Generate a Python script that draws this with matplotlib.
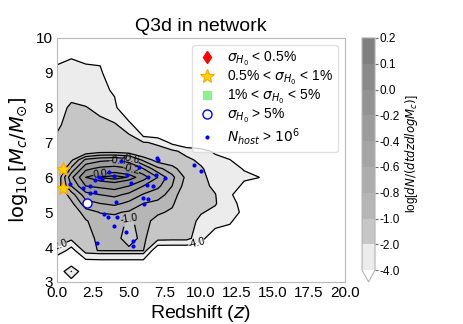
import numpy as np
import matplotlib
matplotlib.use('Agg')
import matplotlib.pyplot as plt
from matplotlib.colors import ListedColormap, BoundaryNorm

plt.rcParams['font.family'] = ['Liberation Sans', 'DejaVu Sans']

# grid of log density, rows = logM, columns = redshift
z_grid = np.arange(0, 16)
m_grid = [2.9, 3.3, 3.6, 3.9, 4.25, 4.75, 5.0, 5.25, 5.5, 5.75, 6.0,
          6.25, 6.5, 6.75, 7.0, 7.5, 8.0, 8.5, 9.0, 9.5, 9.9]
E = -6.0
dens = [
    [E]*16,
    [E, -1.95] + [E]*14,
    [E, E, -4.5, -4.4, -4.4, -4.4, -4.4] + [E]*9,
    [-2.2, -5, -1.2, -0.95, -0.95, -0.95, -0.95] + [E]*9,
    [-1.6, -1.5, -1.15, -0.9, -0.92, -1.1, -0.93, -1.3, -1.4, -1.4, -3.2, E, E, E, E, E],
    [-1.45, -1.3, -1.02, -0.88, -0.85, -1.05, -0.9, -1.1, -1.3, -1.4, -2.3, -2.5, -3.5, E, E, E],
    [-1.4, -1.2, -0.88, -0.79, -0.78, -0.82, -0.88, -0.95, -1.05, -1.35, -1.9, -2.3, -3.0, -4.5, E, E],
    [-1.35, -1.05, -0.68, -0.6, -0.55, -0.65, -0.8, -0.85, -0.95, -1.3, -1.7, -1.9, -3.0, -5.0, E, E],
    [-1.25, -0.9, -0.48, -0.4, -0.35, -0.45, -0.62, -0.72, -0.88, -1.2, -1.6, -1.95, -3.5, E, E, E],
    [-1.15, -0.6, -0.2, -0.15, -0.1, -0.2, -0.4, -0.55, -0.8, -1.1, -1.55, -2.3, -3.0, -4.4, E, E],
    [-1.2, -0.45, 0.0, 0.11, 0.15, 0.09, -0.1, -0.4, -0.75, -1.05, -1.6, -2.6, -3.2, -3.7, -3.9, E],
    [-1.35, -0.75, -0.25, -0.15, -0.12, -0.18, -0.4, -0.75, -0.9, -1.2, -1.8, -2.9, -3.5, -4.1, E, E],
    [-1.5, -1.05, -0.55, -0.45, -0.42, -0.5, -0.85, -1.1, -1.2, -1.6, -2.4, -3.3, -3.9, E, E, E],
    [-1.65, -1.3, -1.2, -1.1, -1.1, -1.15, -1.3, -1.6, -1.6, -2.6, -3.2, -4.4, E, E, E, E],
    [-1.8, -1.5, -1.3, -1.4, -1.5, -1.45, -1.9, -2.2, -4.6] + [E]*7,
    [-2.15, -1.65, -1.55, -1.7, -1.85, -2.6, -8, -9] + [E]*8,
    [-2.6, -1.75, -1.95, -2.3, -3.0, -9] + [E]*10,
    [-3.0, -2.6, -2.6, -2.8, -4.6] + [E]*11,
    [-3.5, -3.2, -3.4, -3.6] + [E]*12,
    [-4.6, -4.2, -4.6, -4.6] + [E]*12,
    [E, -5.5] + [E]*14,
]

levels = [-4.0, -2.0, -1.0, -0.8, -0.6, -0.4, -0.2, 0.0, 0.1, 0.2]
band_colors = ['#ececec', '#c6c6c6', '#b6b6b6', '#adadad', '#a5a5a5',
               '#9c9c9c', '#939393', '#8a8a8a', '#808080']

# galaxies with N_host > 1e6
dot_z = [0.93, 1.8, 2.3, 2.3, 2.66, 2.66, 2.9, 3.13, 3.6, 3.94, 4.45, 4.88,
         5.14, 5.72, 6.35, 6.92, 7.03, 6.9, 7.5, 9.51, 10.02, 6.27, 6.65,
         5.95, 6.33, 6.03, 4.08, 3.25, 3.53, 4.18, 3.99, 4.81, 5.3, 5.3, 2.79]
dot_m = [5.82, 5.68, 5.74, 5.55, 5.59, 5.93, 6.01, 5.95, 6.16, 6.05, 6.47, 6.06,
         5.83, 6.3, 6.0, 6.56, 6.49, 6.06, 5.99, 6.35, 6.19, 5.78, 5.74,
         5.42, 5.37, 5.24, 5.29, 4.96, 4.86, 4.86, 4.59, 4.42, 4.18, 4.03, 4.11]
star_z = [0.4, 0.4]
star_m = [6.23, 5.69]
circ_z = [2.06]
circ_m = [5.25]

label_pos = {-0.4: (4.2, 6.38), -0.6: (5.1, 6.45), -0.2: (5.1, 6.15),
             0.0: (3.0, 6.12), -1.0: (5.0, 4.78), -4.0: (9.7, 4.06),
             -2.0: (0.2, 3.95)}

Z, M = np.meshgrid(z_grid, m_grid)
D = np.array(dens)

fig = plt.figure(figsize=(4.63, 3.24), dpi=100)
ax = fig.add_axes([0.123, 0.130, 0.622, 0.753])
cax = fig.add_axes([0.782, 0.130, 0.028, 0.753])

cmap = ListedColormap(band_colors)
cmap.set_under('white')
norm = BoundaryNorm(levels, len(band_colors))

cf = ax.contourf(Z, M, D, levels=levels, cmap=cmap, norm=norm, extend='min')
# one contour set per level so each label can be put by hand
for lev in levels:
    cs = ax.contour(Z, M, D, levels=[lev], colors='k', linewidths=0.9,
                    linestyles='solid')
    if lev in label_pos:
        ax.clabel(cs, manual=[label_pos[lev]], fmt='%1.1f', fontsize=7.5,
                  inline=True, inline_spacing=2)

ax.plot([], [], 'd', color='red', markersize=6, label=r'$\sigma_{H_0}$ < 0.5%')
ax.plot(star_z, star_m, '*', mfc='gold', mec='orange', mew=0.8, markersize=10,
        label=r'0.5% < $\sigma_{H_0}$ < 1%', zorder=4)
ax.plot([], [], 's', color='lightgreen', markersize=6,
        label=r'1% < $\sigma_{H_0}$ < 5%')
ax.plot(circ_z, circ_m, 'o', mfc='white', mec='blue', mew=1.0, markersize=6.5,
        label=r'$\sigma_{H_0}$ > 5%', zorder=4)
ax.plot(dot_z, dot_m, 'o', color='blue', mec='none', markersize=3,
        label=r'$N_{host}$ > $10^6$', zorder=4)

ax.set_xlim(0, 20)
ax.set_ylim(3, 10)
ax.set_xticks([0, 2.5, 5, 7.5, 10, 12.5, 15, 17.5, 20])
ax.tick_params(length=0, labelsize=11, pad=3)
for s in ax.spines.values():
    s.set_color('0.72')
ax.set_xlabel('Redshift ($z$)', fontsize=14, labelpad=2)
ax.set_ylabel(r'$\log_{10}[M_c/M_{\odot}]$', fontsize=14, labelpad=4)
ax.set_title('Q3d in network', fontsize=14, pad=5)

leg = ax.legend(loc='upper right', fontsize=10, frameon=True, fancybox=True,
                handletextpad=0.7, borderpad=0.35, labelspacing=0.08,
                handlelength=1.5)
leg.get_frame().set_edgecolor('0.85')

cb = fig.colorbar(cf, cax=cax, ticks=levels)
cb.ax.set_yticklabels(['%.1f' % l for l in levels])
cb.ax.tick_params(labelsize=8.5, length=2.5, color='0.4', pad=1)
cb.outline.set_edgecolor('0.7')
cb.set_label(r'log[$dN/(dtdzdlogM_c)$]', fontsize=8.5, labelpad=2)

fig.savefig('out.png', dpi=100)
